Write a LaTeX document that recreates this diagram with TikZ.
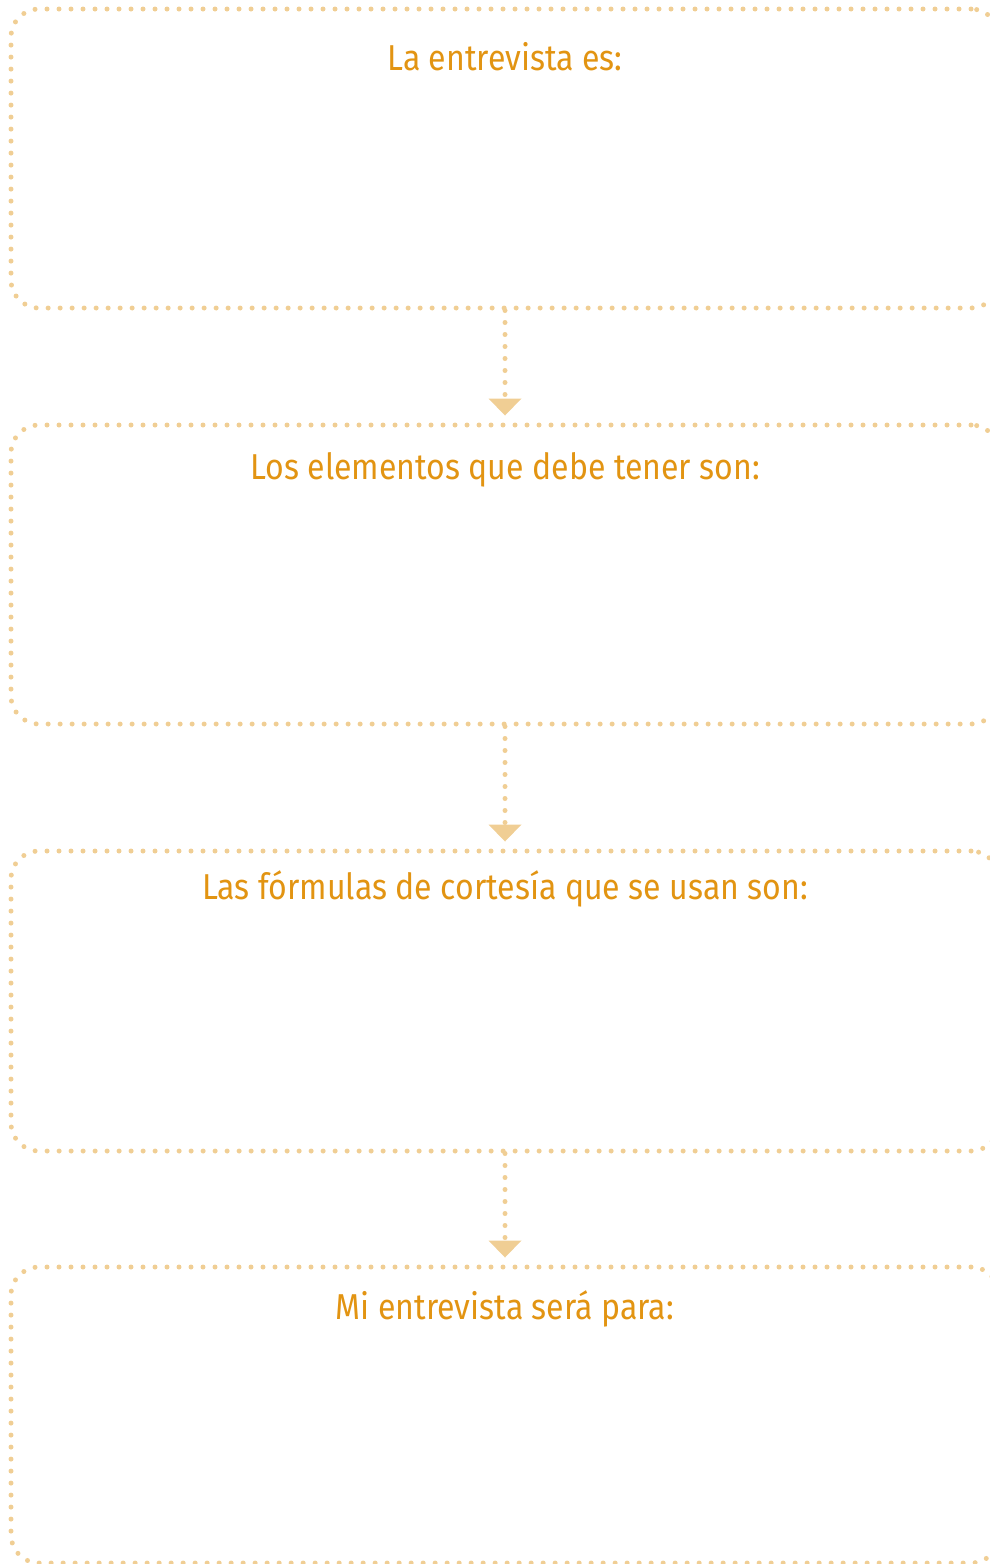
\documentclass[tikz,border=0pt]{standalone}
\usepackage{fontspec}
\setmainfont[FakeStretch=0.89]{Fira Sans}
\usetikzlibrary{arrows.meta}
\definecolor{pointille}{RGB}{240,206,148}
\definecolor{orangetitre}{RGB}{226,148,18}

\begin{document}
\begin{tikzpicture}[x=1pt,y=-1pt,
		cadre/.style={rectangle,rounded corners=28pt,draw=pointille,line width=5pt,
			line cap=round,dash pattern=on 0pt off 12pt,minimum width=988pt,inner sep=0pt},
		titre/.style={anchor=base,text=orangetitre,inner sep=0pt,
			font=\fontsize{36}{40}\selectfont},
		fleche/.style={draw=pointille,line width=5pt,line cap=round,dash pattern=on 0pt off 12pt,
			arrows={-{Triangle[length=17pt,width=33pt,line width=0pt]}},shorten >=7pt}]
		\useasboundingbox (0,0) rectangle (990,1564);

		\node[cadre,minimum height=299pt] (entrevista) at (505,158.5) {};
		\node[cadre,minimum height=299pt] (elementos) at (505,574.5) {};
		\node[cadre,minimum height=300pt] (formulas) at (505,1001) {};
		\node[cadre,minimum height=296pt] (mientrevista) at (505,1415) {};

		\node[titre] (tentrevista) at (505,70) {La entrevista es:};
		\node[titre] (telementos) at (505,479) {Los elementos que debe tener son:};
		\node[titre] (tformulas) at (505,899) {Las fórmulas de cortesía que se usan son:};
		\node[titre] (tmientrevista) at (505,1319) {Mi entrevista será para:};

		\path[fleche] (entrevista) -- (elementos);
		\path[fleche] (elementos) -- (formulas);
		\path[fleche] (formulas) -- (mientrevista);
	\end{tikzpicture}
\end{document}
